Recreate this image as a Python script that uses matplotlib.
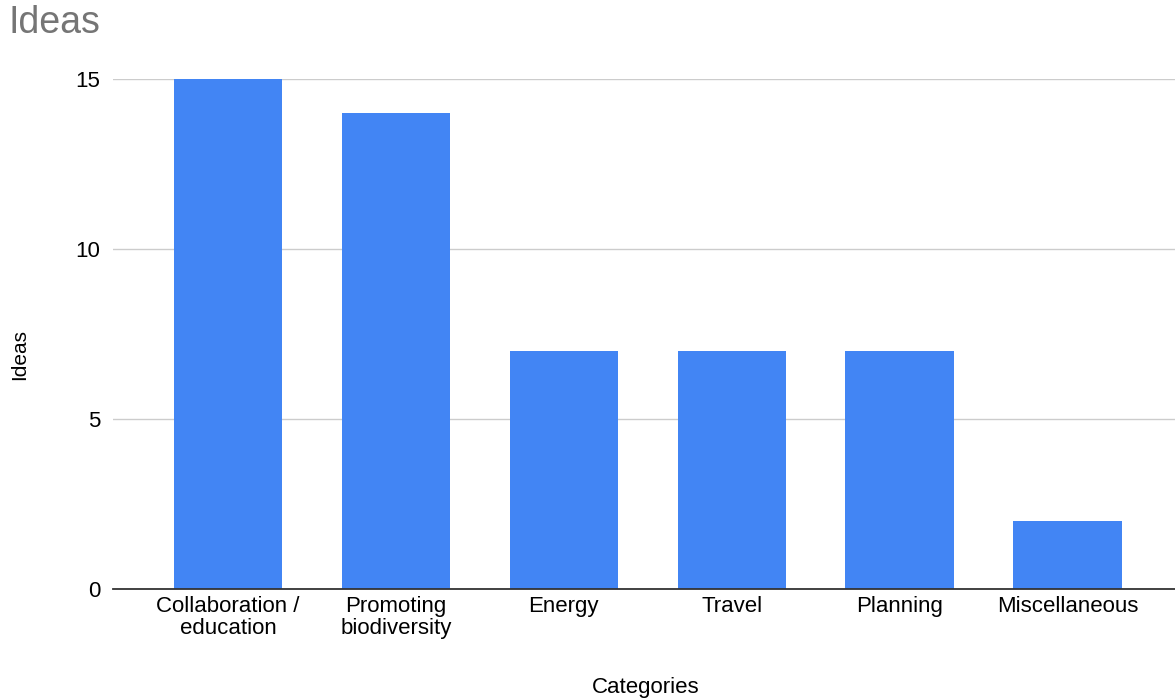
import matplotlib.pyplot as plt
import numpy as np

categories = ['Collaboration /\neducation', 'Promoting\nbiodiversity', 'Energy',
              'Travel', 'Planning', 'Miscellaneous']
ideas = [15, 14, 7, 7, 7, 2]
y_ticks = [0, 5, 10, 15]

plt.rcParams['font.family'] = ['Liberation Sans', 'DejaVu Sans']

fig = plt.figure(figsize=(11.75, 7), dpi=100)
ax = fig.add_axes([113 / 1175, 1 - 589 / 700, 1 - 113 / 1175, (589 - 79) / 700])

x = np.arange(len(categories))
ax.bar(x, ideas, width=0.645, color='#4285f4', zorder=2)

ax.set_ylim(0, 15)
ax.set_xlim(-0.685, 5.64)
ax.set_yticks(y_ticks)
ax.set_xticks(x)
ax.set_xticklabels(categories, fontsize=16, linespacing=1.05)
ax.tick_params(axis='y', labelsize=16, length=0, pad=9)
ax.tick_params(axis='x', length=0, pad=5)
ax.grid(axis='y', color='#cccccc', linewidth=1, zorder=0)

for side in ['top', 'right', 'left']:
    ax.spines[side].set_visible(False)
ax.spines['bottom'].set_color('#333333')
ax.spines['bottom'].set_linewidth(1.3)
ax.spines['bottom'].set_zorder(3)

ax.set_ylabel('Ideas', fontsize=15)
ax.yaxis.set_label_coords(-84 / 1062, 0.46)
ax.set_xlabel('Categories', fontsize=16)
ax.xaxis.set_label_coords((646 - 113) / 1062, -(677 - 589) / 510)

fig.text(9 / 1175, 1 - 23 / 700, 'Ideas', fontsize=27, color='#757575', va='center')

fig.savefig('out.png', dpi=100)
